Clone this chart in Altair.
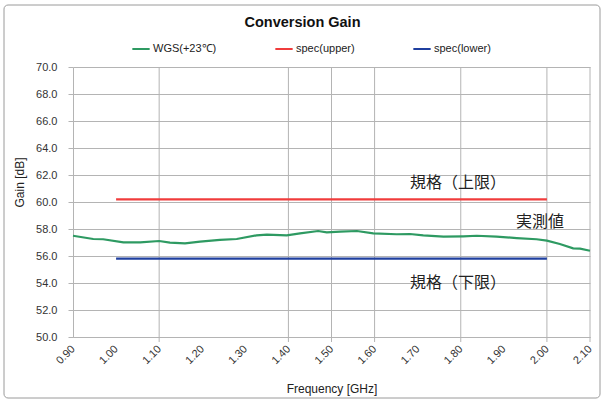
import altair as alt
import pandas as pd

# Measured conversion gain of the WGS unit at +23 °C
freq_ghz = [0.900, 0.947, 0.970, 1.017, 1.056, 1.100, 1.125, 1.160, 1.195, 1.241,
            1.280, 1.326, 1.350, 1.396, 1.427, 1.469, 1.489, 1.520, 1.559, 1.597,
            1.651, 1.682, 1.713, 1.760, 1.806, 1.837, 1.883, 1.930, 1.976, 2.000,
            2.030, 2.061, 2.077, 2.100]
gain_db = [57.50, 57.26, 57.24, 57.01, 57.01, 57.11, 56.99, 56.94, 57.06, 57.19,
           57.26, 57.53, 57.58, 57.53, 57.68, 57.85, 57.75, 57.80, 57.85, 57.68,
           57.61, 57.63, 57.53, 57.43, 57.46, 57.50, 57.43, 57.33, 57.24, 57.14,
           56.89, 56.57, 56.54, 56.39]

# Specification limits over the 1.0-2.0 GHz band
spec_freq = [1.00, 2.00]
spec_upper = [60.2, 60.2]
spec_lower = [55.8, 55.8]

series_names = ["WGS(+23℃)", "spec(upper)", "spec(lower)"]
series_colors = ["#2e9a62", "#f03c3c", "#1f3f9f"]

x_tick_values = [0.90, 1.00, 1.10, 1.20, 1.30, 1.40, 1.50, 1.60, 1.70, 1.80, 1.90, 2.00, 2.10]
x_grid_values = [1.10, 1.40, 1.50, 1.60, 1.80, 2.00, 2.10]
y_tick_values = [50, 52, 54, 56, 58, 60, 62, 64, 66, 68, 70]

notes = ["規格（上限）", "実測値", "規格（下限）"]
note_freq = [1.682, 1.928, 1.682]
note_gain = [61.41, 58.52, 54.00]

rows = []
for f, g in zip(freq_ghz, gain_db):
    rows.append({"series": series_names[0], "freq": f, "gain": g})
for f, g in zip(spec_freq, spec_upper):
    rows.append({"series": series_names[1], "freq": f, "gain": g})
for f, g in zip(spec_freq, spec_lower):
    rows.append({"series": series_names[2], "freq": f, "gain": g})
df = pd.DataFrame(rows)

W, H = 517, 270
GRID = "#b4b4b4"
FONT = "Liberation Sans"

x_scale = alt.Scale(domain=[0.9, 2.1], nice=False, zero=False)
y_scale = alt.Scale(domain=[50, 70], nice=False, zero=False)

x_axis = alt.Axis(
    values=x_tick_values, format=".2f", labelAngle=315,
    labelAlign="right", labelBaseline="middle", labelPadding=10,
    labelOverlap=False, grid=False, ticks=False, domainColor=GRID,
    title="Frequency [GHz]", titleY=51, titleBaseline="middle",
)
y_axis = alt.Axis(
    values=y_tick_values, format=".1f", grid=True, gridColor=GRID,
    tickColor=GRID, tickSize=5, domainColor=GRID, labelPadding=11,
    labelOverlap=False,
    title="Gain [dB]", titleX=-54, titleY=115, titleAngle=270,
    titleAlign="center", titleBaseline="middle",
)

# Vertical gridlines (with their short tick below the axis)
grid = alt.Chart(pd.DataFrame({"freq": x_grid_values})).mark_rule(
    color=GRID, strokeWidth=1
).encode(
    x=alt.X("freq:Q", scale=x_scale, axis=x_axis),
    y=alt.value(0),
    y2=alt.value(H + 5),
)

lines = alt.Chart(df).mark_line(strokeWidth=2.2).encode(
    x=alt.X("freq:Q", scale=x_scale, axis=x_axis),
    y=alt.Y("gain:Q", scale=y_scale, axis=y_axis),
    color=alt.Color(
        "series:N",
        scale=alt.Scale(domain=series_names, range=series_colors),
        legend=alt.Legend(
            orient="none", legendX=58, legendY=-28, direction="horizontal",
            title=None, symbolType="stroke", symbolStrokeWidth=2, symbolSize=300,
            labelFont=FONT, labelFontSize=11, labelColor="#222",
            columnPadding=54, labelOffset=2,
        ),
    ),
)

labels = alt.Chart(
    pd.DataFrame({"freq": note_freq, "gain": note_gain, "t": notes})
).mark_text(
    align="left", baseline="middle", font="Noto Sans CJK JP",
    fontSize=16, color="#222",
).encode(
    x=alt.X("freq:Q", scale=x_scale, axis=x_axis),
    y=alt.Y("gain:Q", scale=y_scale, axis=y_axis),
    text="t:N",
)

# Rounded frame around the whole chart
frame = alt.Chart(pd.DataFrame({"k": [0]})).mark_rect(
    fill=None, stroke="#9a9a9a", strokeWidth=1, cornerRadius=4
).encode(
    x=alt.value(-69), x2=alt.value(W + 10),
    y=alt.value(-62), y2=alt.value(H + 61),
)

chart = alt.layer(grid, lines, labels, frame).properties(
    width=W, height=H,
    title=alt.TitleParams(
        "Conversion Gain", font=FONT, fontSize=14.5, fontWeight="bold",
        color="#111", anchor="middle", frame="group", dx=-29, dy=26, offset=0,
    ),
    autosize=alt.AutoSizeParams(type="none"),
    padding={"left": 73, "top": 67, "right": 14, "bottom": 66},
).configure_view(stroke=None).configure_axis(
    labelFont=FONT, labelFontSize=11, labelColor="#333",
    titleFont=FONT, titleFontSize=12, titleFontWeight="normal", titleColor="#222",
)

chart.save("out.html", embed_options={"renderer": "svg", "actions": False})
